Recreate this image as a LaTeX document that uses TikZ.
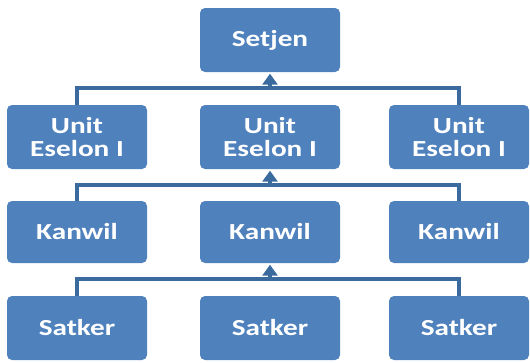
\documentclass[tikz,border=0pt]{standalone}
\usepackage{fontspec}
\newfontfamily\boxfont{Carlito}[FakeStretch=1.27]
\usetikzlibrary{arrows.meta}
\definecolor{boxblue}{HTML}{4F81BD}
\definecolor{linkblue}{HTML}{3A6A9E}
\begin{document}
\begin{tikzpicture}[x=1pt,y=-1pt,
  orgbox/.style={rectangle, rounded corners=5pt, fill=boxblue, draw=none,
    minimum width=140pt, minimum height=64pt, inner sep=0pt,
    text=white, align=center,
    font=\boxfont\bfseries\fontsize{23}{23}\selectfont},
  link/.style={draw=linkblue, line width=3.5pt},
  uplink/.style={link, -{Triangle[width=15pt,length=11pt]}, shorten >=1.5pt}]
\useasboundingbox (0,0) rectangle (530,362);

% top level
\node[orgbox] (setjen) at (270,40) {Setjen};

% second level
\node[orgbox] (ua) at (77,137)  {Unit\\Eselon I};
\node[orgbox] (ub) at (270,137) {Unit\\Eselon I};
\node[orgbox] (uc) at (459,137) {Unit\\Eselon I};

% third level
\node[orgbox, minimum height=62pt] (ka) at (77,232)  {Kanwil};
\node[orgbox, minimum height=62pt] (kb) at (270,232) {Kanwil};
\node[orgbox, minimum height=62pt] (kc) at (459,232) {Kanwil};

% bottom level
\node[orgbox] (sa) at (77,328)  {Satker};
\node[orgbox] (sb) at (270,328) {Satker};
\node[orgbox] (sc) at (459,328) {Satker};

% bus lines between levels
\coordinate (bus1) at (270,88);
\coordinate (bus2) at (270,185);
\coordinate (bus3) at (270,279);

\draw[link] (ua.north) |- (bus1) -| (uc.north);
\draw[uplink] (bus1) -- (setjen.south);

\draw[link] (ka.north) |- (bus2) -| (kc.north);
\draw[uplink] (bus2) -- (ub.south);

\draw[link] (sa.north) |- (bus3) -| (sc.north);
\draw[uplink] (bus3) -- (kb.south);
\end{tikzpicture}
\end{document}
